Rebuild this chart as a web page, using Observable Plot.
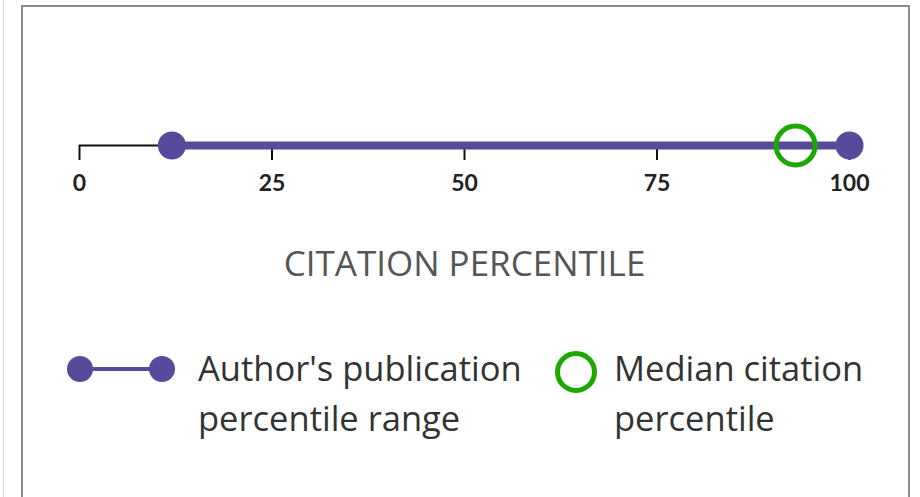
<!DOCTYPE html>
<html>
<head>
<meta charset="utf-8">
<script src="https://cdn.jsdelivr.net/npm/d3@7"></script>
<script src="https://cdn.jsdelivr.net/npm/@observablehq/plot@0.6"></script>
<style>
  html, body { margin: 0; padding: 0; background: #fff; }
  body { width: 920px; height: 497px; position: relative; overflow: hidden; font-family: "Open Sans", Lato, sans-serif; }
  #leftline { position: absolute; left: 3px; top: 0; width: 1px; height: 497px; background: #dcdcdc; }
  #box { position: absolute; left: 21px; top: 5px; width: 889px; height: 600px; box-sizing: border-box; border: 2px solid #8a8a8a; border-bottom: none; }
  #chart { position: absolute; left: 0; top: 0; }
  #legend { position: absolute; left: 0; top: 0; width: 920px; height: 497px; pointer-events: none; }
  .item { position: absolute; display: flex; align-items: flex-start; }
  .label { color: #333; font-size: 34.5px; line-height: 50px; white-space: nowrap; }
</style>
</head>
<body>
<div id="leftline"></div>
<div id="box"></div>
<div id="chart"></div>
<div id="legend">
  <div class="item" id="item1" style="left:66px; top:343px;">
    <svg id="sw1" width="110" height="50"></svg>
    <div class="label" style="margin-left:22px">Author's publication<br>percentile range</div>
  </div>
  <div class="item" id="item2" style="left:553px; top:343px;">
    <svg id="sw2" width="46" height="56"></svg>
    <div class="label" style="margin-left:15px">Median citation<br>percentile</div>
  </div>
</div>
<script>
// Data
const tickValues = [0, 25, 50, 75, 100];
const rangeLow = [12];
const rangeHigh = [100];
const medianValue = [93];
const axisTitle = "CITATION PERCENTILE";
const legendLabels = ["Author's publication percentile range", "Median citation percentile"];

const purple = "#574a9b";
const green = "#1ca800";

const data = rangeLow.map((lo, i) => ({low: lo, high: rangeHigh[i], median: medianValue[i]}));

const chart = Plot.plot({
  width: 920,
  height: 300,
  marginLeft: 79,
  marginRight: 71,
  marginTop: 0,
  marginBottom: 155,
  style: {fontFamily: "Lato, 'Open Sans', sans-serif", background: "transparent", overflow: "visible"},
  x: {domain: [tickValues[0], tickValues[tickValues.length - 1]]},
  y: {domain: [0, 1], axis: null},
  marks: [
    Plot.ruleY([0], {x1: tickValues[0], x2: tickValues[tickValues.length - 1], stroke: "#111", strokeWidth: 2}),
    Plot.axisX({
      ticks: tickValues,
      tickSize: 15,
      tickPadding: 14,
      strokeWidth: 2,
      stroke: "#111",
      fontSize: 23,
      fontWeight: "bold",
      fill: "#222",
      label: axisTitle,
      labelAnchor: "center",
      labelArrow: "none",
      labelOffset: 130
    }),
    Plot.link(data, {x1: "low", x2: "high", y1: 0, y2: 0, stroke: purple, strokeWidth: 8}),
    Plot.dot(data, {x: "low", y: 0, r: 14, fill: purple}),
    Plot.dot(data, {x: "high", y: 0, r: 14, fill: purple}),
    Plot.dot(data, {x: "median", y: 0, r: 19.5, stroke: green, strokeWidth: 5, fill: "none"})
  ]
});
document.getElementById("chart").appendChild(chart);
// style axis label
chart.querySelectorAll("text").forEach(t => {
  if (t.textContent === axisTitle) {
    t.setAttribute("font-size", "35");
    t.setAttribute("font-weight", "normal");
    t.setAttribute("font-family", "'Open Sans', Lato, sans-serif");
    t.setAttribute("fill", "#555");
  }
});

// Legend swatches
const sw1 = d3.select("#sw1");
sw1.append("line").attr("x1", 14).attr("x2", 96).attr("y1", 26).attr("y2", 26).attr("stroke", purple).attr("stroke-width", 4);
sw1.selectAll("circle").data([14, 96]).join("circle").attr("cx", d => d).attr("cy", 26).attr("r", 13).attr("fill", purple);
const sw2 = d3.select("#sw2");
sw2.append("circle").attr("cx", 23).attr("cy", 29).attr("r", 18.5).attr("fill", "none").attr("stroke", green).attr("stroke-width", 5);
</script>
</body>
</html>
